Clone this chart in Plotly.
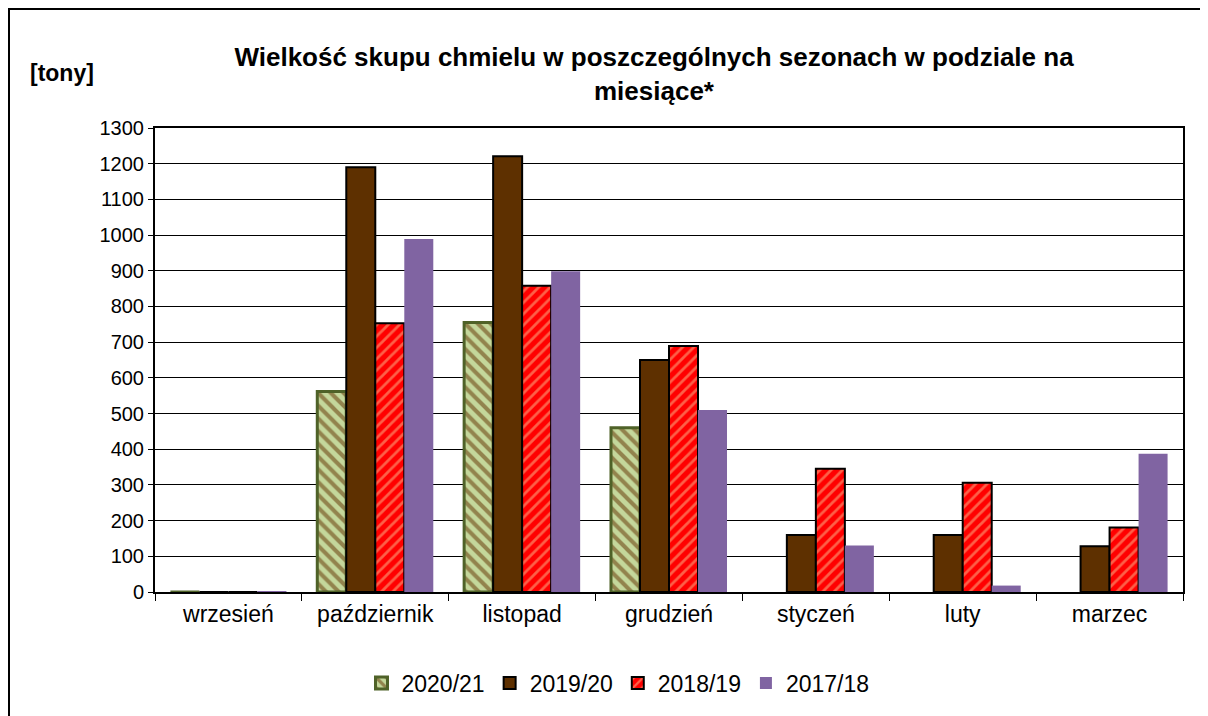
import plotly.graph_objects as go

months = ["wrzesień", "październik", "listopad", "grudzień", "styczeń", "luty", "marzec"]
s2020_21 = [0, 562, 755, 460, None, None, None]
s2019_20 = [0, 1190, 1221, 650, 160, 160, 128]
s2018_19 = [0, 753, 858, 689, 345, 306, 181]
s2017_18 = [2, 989, 899, 510, 130, 18, 387]
y_ticks = list(range(0, 1301, 100))

FONT = "Liberation Sans, Arial, sans-serif"

fig = go.Figure()
fig.add_trace(go.Bar(
    name="2020/21", x=months, y=s2020_21,
    marker=dict(color="#c4d79b", line=dict(color="#4f6228", width=3),
                pattern=dict(shape="\\", fgcolor="#603000", bgcolor="#c4d79b",
                             size=9, solidity=0.45, fillmode="overlay")),
))
fig.add_trace(go.Bar(
    name="2019/20", x=months, y=s2019_20,
    marker=dict(color="#5e3000", line=dict(color="#000000", width=2)),
))
fig.add_trace(go.Bar(
    name="2018/19", x=months, y=s2018_19,
    marker=dict(color="#ff0000", line=dict(color="#000000", width=2),
                pattern=dict(shape="/", fgcolor="#fac090", bgcolor="#ff0000",
                             size=8, solidity=0.35, fillmode="overlay")),
))
fig.add_trace(go.Bar(
    name="2017/18", x=months, y=s2017_18,
    marker=dict(color="#8064a2", line=dict(width=0)),
))

# outer frame (extends past the right and bottom edges as in the reference)
fig.add_shape(type="rect", xref="paper", yref="paper",
              x0=(9 - 155) / 1028, x1=(1230 - 155) / 1028,
              y0=(592 - 740) / 464, y1=(592 - 9) / 464,
              line=dict(color="#000000", width=2), layer="below")

fig.add_annotation(text="<b>[tony]</b>", xref="paper", yref="paper",
                   x=(62 - 155) / 1028, y=(592 - 73) / 464,
                   showarrow=False, font=dict(family=FONT, size=23, color="#000"),
                   xanchor="center", yanchor="middle")

fig.update_layout(
    width=1200, height=708,
    margin=dict(l=147, r=25, t=120, b=124),
    paper_bgcolor="white", plot_bgcolor="white",
    barmode="group", bargap=0.21, bargroupgap=0,
    font=dict(family=FONT, size=20, color="#000"),
    title=dict(text="<b>Wielkość skupu chmielu w poszczególnych sezonach w podziale na<br>miesiące*</b>",
               xref="paper", x=(654 - 155) / 1028, xanchor="center",
               yref="container", y=1 - 58 / 708, yanchor="middle",
               font=dict(family=FONT, size=26, color="#000")),
    legend=dict(orientation="h", xanchor="center", yanchor="middle",
                x=(618 - 155) / 1028, y=(592 - 683) / 464,
                font=dict(family=FONT, size=23, color="#000"),
                itemwidth=30, traceorder="normal"),
    xaxis=dict(showline=True, linecolor="#000", linewidth=2, mirror=True,
               ticks="outside", tickson="boundaries", ticklen=7, tickcolor="#000",
               tickfont=dict(family=FONT, size=23)),
    yaxis=dict(range=[0, 1300], tickvals=y_ticks, showline=True, linecolor="#000",
               linewidth=2, mirror=True, ticks="outside", ticklen=5, tickcolor="#000",
               showgrid=True, gridcolor="#000", gridwidth=1, zeroline=False,
               tickfont=dict(family=FONT, size=20)),
)

fig.write_html("out.html")
